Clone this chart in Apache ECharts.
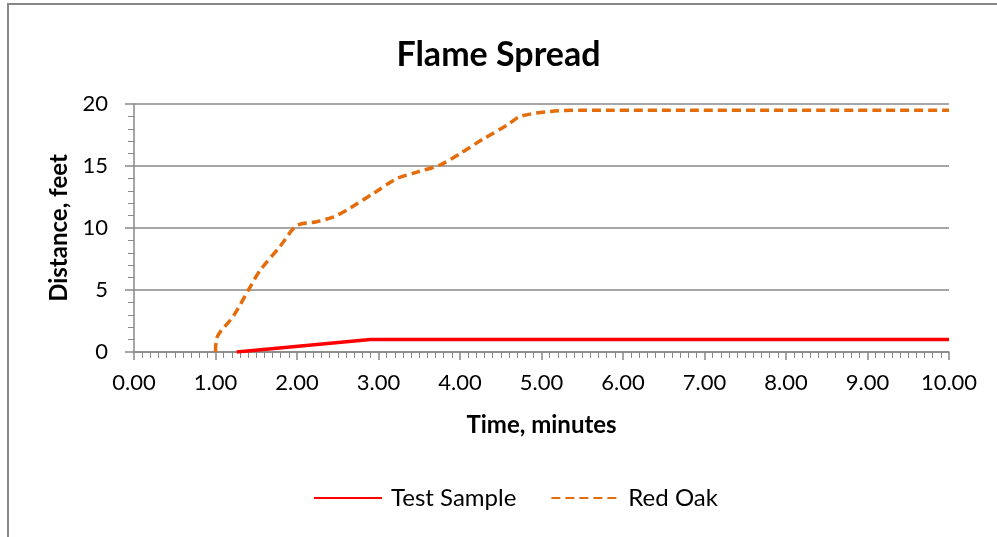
<!DOCTYPE html>
<html>
<head>
<meta charset="utf-8">
<script src="https://cdn.jsdelivr.net/npm/echarts@6/dist/echarts.min.js"></script>
<style>
html,body{margin:0;padding:0;background:#fff;}
#c{width:997px;height:537px;}
</style>
</head>
<body>
<div id="c"></div>
<script>
const title = "Flame Spread";
const xAxisTitle = "Time, minutes";
const yAxisTitle = "Distance, feet";
const seriesNames = ["Test Sample", "Red Oak"];

const testSampleTime = [1.26, 2.9, 10];
const testSampleDist = [0, 1, 1];

const redOakTime = [1.0, 1.02, 1.22, 1.43, 1.55, 1.79, 2.0, 2.24, 2.45, 2.65, 2.94, 3.23, 3.47, 3.76, 4.0, 4.29, 4.58, 4.74, 5.11, 5.5, 10];
const redOakDist = [0, 1.2, 2.9, 5.3, 6.6, 8.5, 10.2, 10.5, 10.9, 11.6, 12.8, 14.0, 14.5, 15.1, 16.0, 17.2, 18.3, 19.0, 19.4, 19.5, 19.5];

const FONT = "Lato, 'Open Sans', sans-serif";
const chart = echarts.init(document.getElementById('c'));
const zip = (a, b) => a.map((v, i) => [v, b[i]]);

chart.setOption({
  animation: false,
  backgroundColor: '#fff',
  graphic: [{
    type: 'rect', silent: true,
    shape: {x: 8, y: 4, width: 1200, height: 1000},
    style: {fill: 'none', stroke: '#888', lineWidth: 2}
  }],
  title: {
    text: title, left: 'center', top: 33,
    textStyle: {fontFamily: FONT, fontWeight: 'bold', fontSize: 34, color: '#000'}
  },
  legend: {
    bottom: 22, left: 308,
    itemWidth: 68, itemHeight: 4, itemGap: 34,
    itemStyle: {opacity: 0},
    textStyle: {fontFamily: FONT, fontSize: 24, color: '#000', padding: [0, 0, 0, 4]},
    data: seriesNames
  },
  grid: {left: 134, right: 48, top: 104, bottom: 185, containLabel: false},
  xAxis: {
    type: 'value', min: 0, max: 10, interval: 1,
    name: xAxisTitle, nameLocation: 'middle', nameGap: 61,
    nameTextStyle: {fontFamily: FONT, fontWeight: 'bold', fontSize: 24, color: '#000'},
    axisLine: {show: true, lineStyle: {color: '#888', width: 1.5}},
    axisTick: {show: true, length: 8, lineStyle: {color: '#888', width: 1.5}},
    minorTick: {show: true, splitNumber: 10, length: 6, lineStyle: {color: '#888', width: 1}},
    splitLine: {show: false},
    axisLabel: {fontFamily: FONT, fontSize: 22, color: '#000', margin: 20, formatter: v => v.toFixed(2)}
  },
  yAxis: {
    type: 'value', min: 0, max: 20, interval: 5,
    name: yAxisTitle, nameLocation: 'middle', nameGap: 54,
    nameTextStyle: {fontFamily: FONT, fontWeight: 'bold', fontSize: 24, color: '#000'},
    axisLine: {show: true, lineStyle: {color: '#888', width: 1.5}},
    axisTick: {show: true, length: 9, lineStyle: {color: '#888', width: 1.5}},
    minorTick: {show: true, splitNumber: 5, length: 6, lineStyle: {color: '#888', width: 1}},
    splitLine: {show: true, lineStyle: {color: '#888', width: 1.5}},
    axisLabel: {fontFamily: FONT, fontSize: 22, color: '#000', margin: 26}
  },
  series: [
    {
      name: seriesNames[0], type: 'line', data: zip(testSampleTime, testSampleDist),
      showSymbol: false, symbol: 'none', color: '#FF0000',
      lineStyle: {color: '#FF0000', width: 3.5}
    },
    {
      name: seriesNames[1], type: 'line', data: zip(redOakTime, redOakDist),
      showSymbol: false, symbol: 'none', smooth: 0.3, color: '#E46C0A',
      lineStyle: {color: '#E46C0A', width: 3.5, type: [9, 5]}
    }
  ]
});
</script>
</body>
</html>
